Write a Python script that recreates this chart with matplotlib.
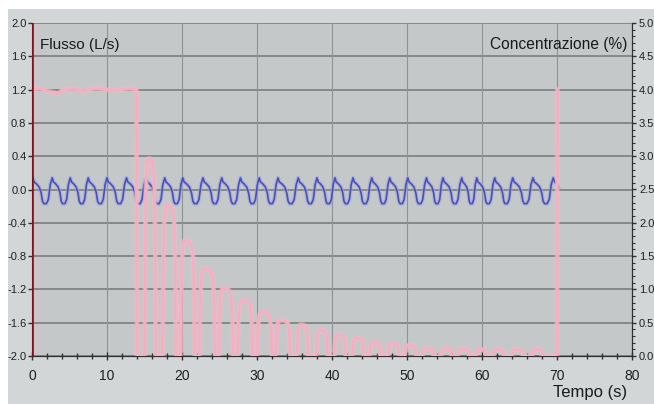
import matplotlib
matplotlib.use("Agg")
import matplotlib.pyplot as plt
import numpy as np
from matplotlib.patches import Rectangle
from matplotlib.ticker import MultipleLocator, FormatStrFormatter

plt.rcParams['font.family'] = ['Liberation Sans', 'DejaVu Sans']
plt.rcParams['axes.unicode_minus'] = False

# ---------------- data ----------------
# Flow (L/s), left axis: breath peak times (s) and one cycle shape
flow_peak_times = [0.1, 2.7, 5.1, 7.5, 10.0, 12.6, 15.2, 17.7, 20.1, 22.8,
                   25.3, 27.8, 30.3, 32.8, 35.5, 38.0, 40.4, 42.8, 45.3, 47.7,
                   50.1, 52.6, 54.8, 57.3, 59.3, 61.7, 64.1, 66.8, 69.5]
flow_end_time = 70.2
flow_end_value = 0.02
flow_cycle_phase = [0.00, 0.07, 0.18, 0.33, 0.43, 0.50, 0.57, 0.70, 0.80, 0.90]
flow_cycle_value = [0.14, 0.09, 0.07, 0.03, -0.04, -0.14, -0.17, -0.17, -0.12, 0.06]

# Concentration (%), right axis
conc_plateau_t = [0.05, 1.0, 2.0, 3.0, 3.4, 4.0, 5.5, 7.0, 8.5, 10.0, 11.5, 13.0, 13.9, 14.0]
conc_plateau_v = [4.0, 4.02, 3.98, 3.95, 3.93, 3.99, 4.01, 3.98, 4.02, 4.0, 3.99, 4.02, 4.0, 0.0]
pulse_start = [15.1, 17.5, 19.9, 22.4, 25.0, 27.5, 30.1, 32.6, 35.4, 38.0,
               40.4, 42.8, 45.1, 47.5, 49.8, 52.2, 54.7, 56.9, 59.3, 61.6, 64.1, 66.8]
pulse_end = [16.5, 19.2, 21.7, 24.4, 26.8, 29.4, 32.0, 34.4, 36.8, 39.4,
             41.8, 44.2, 46.4, 48.9, 51.2, 53.5, 55.9, 58.2, 60.5, 62.9, 65.4, 68.0]
pulse_height = [2.97, 2.27, 1.74, 1.32, 1.02, 0.84, 0.66, 0.54, 0.47, 0.39,
                0.32, 0.27, 0.21, 0.19, 0.16, 0.12, 0.12, 0.11, 0.10, 0.10, 0.10, 0.10]
conc_final_t = [69.9, 70.0, 70.05]
conc_final_v = [0.0, 0.0, 4.0]

x_ticks = [0, 10, 20, 30, 40, 50, 60, 70, 80]
left_ticks = [-2.0, -1.6, -1.2, -0.8, -0.4, 0.0, 0.4, 0.8, 1.2, 1.6, 2.0]
right_ticks = [0.0, 0.5, 1.0, 1.5, 2.0, 2.5, 3.0, 3.5, 4.0, 4.5, 5.0]

# ---------------- build series ----------------
ft, fv = [0.0], [0.12]
for i, p in enumerate(flow_peak_times):
    if i + 1 < len(flow_peak_times):
        T = flow_peak_times[i + 1] - p
        for ph, v in zip(flow_cycle_phase, flow_cycle_value):
            ft.append(p + ph * T); fv.append(v)
    else:
        T = p - flow_peak_times[i - 1]
        for ph, v in zip(flow_cycle_phase[:3], flow_cycle_value[:3]):
            ft.append(p + ph * T); fv.append(v)
ft.append(flow_end_time); fv.append(flow_end_value)

ct, cv = list(conc_plateau_t), list(conc_plateau_v)
for s, e, h in zip(pulse_start, pulse_end, pulse_height):
    w = e - s
    ct += [s - 0.1, s, s + 0.08 * w, s + 0.2 * w, s + 0.4 * w, e - 0.35 * w, e - 0.15 * w, e - 0.05 * w, e]
    cv += [0.0, 0.55 * h, 0.9 * h, 0.99 * h, h, 0.98 * h, 0.9 * h, 0.6 * h, 0.0]
ct += conc_final_t
cv += conc_final_v

# ---------------- figure ----------------
W, H = 654, 404
fig = plt.figure(figsize=(W / 100, H / 100), dpi=100)
fig.patch.set_facecolor('white')
fig.patches.append(Rectangle((8 / W, 0), 1, 1 - 9 / H, transform=fig.transFigure,
                             facecolor='#D3D6D6', edgecolor='none', zorder=-10))

ax = fig.add_axes([32 / W, (H - 356) / H, 600 / W, 333 / H])
ax.set_facecolor('#C4C8C8')
ax2 = ax.twinx()

ax.set_xlim(0, 80)
ax.set_ylim(-2.0, 2.0)
ax2.set_ylim(0, 5.0)

# grid
for y in left_ticks:
    ax.axhline(y, color='#858989', lw=1.4, zorder=0.5)
for x in x_ticks:
    ax.axvline(x, color='#8E9292', lw=0.8, zorder=0.5)

# concentration (pink) on right axis
ax2.plot(ct, cv, color='#F4BCCB', lw=3.6, alpha=0.55, solid_joinstyle='round', zorder=2)
ax2.plot(ct, cv, color='#F6AFC2', lw=2.0, solid_joinstyle='round', zorder=3)

# flow (blue) on left axis
ax.plot(ft, fv, color='#9EA6DA', lw=3.0, alpha=0.6, zorder=2)
ax.plot(ft, fv, color='#4A50B8', lw=1.2, zorder=3)

# dark red cursor at t=0
ax2.axvline(0.0, color='#80101C', lw=2.6, zorder=6)

ax.set_xticks(x_ticks)
ax.xaxis.set_minor_locator(MultipleLocator(2))
ax.set_yticks(left_ticks)
ax.yaxis.set_major_formatter(FormatStrFormatter('%.1f'))
ax2.set_yticks(right_ticks)
ax2.yaxis.set_minor_locator(MultipleLocator(0.1))
ax2.yaxis.set_major_formatter(FormatStrFormatter('%.1f'))

lab_col = '#202020'
ax.tick_params(axis='x', which='major', direction='inout', length=6, width=1,
               labelsize=10, colors='#303030', labelcolor=lab_col, pad=6)
ax.tick_params(axis='x', which='minor', direction='inout', length=4, width=1, colors='#303030')
ax.tick_params(axis='y', which='major', direction='out', length=3, width=1,
               labelsize=8, colors='#303030', labelcolor=lab_col, pad=1)
ax2.tick_params(axis='y', which='major', direction='out', length=3, width=1,
                labelsize=8, colors='#303030', labelcolor=lab_col, pad=2)
ax2.tick_params(axis='y', which='minor', direction='out', length=2, width=0.8, colors='#303030')

for a in (ax, ax2):
    a.spines['top'].set_visible(False)
    a.spines['left'].set_color('#303030')
    a.spines['right'].set_color('#303030')
    a.spines['bottom'].set_color('#303030')
ax2.spines['left'].set_visible(False)

ax.text(0.013, 0.935, 'Flusso (L/s)', transform=ax.transAxes, fontsize=11,
        color='#1A1A1A', ha='left', va='center', zorder=7)
ax2.text(0.993, 0.935, 'Concentrazione (%)', transform=ax.transAxes, fontsize=11.2,
         color='#1A1A1A', ha='right', va='center', zorder=7)
fig.text(627 / W, 1 - 392 / H, 'Tempo (s)', fontsize=12, color='#1A1A1A',
         ha='right', va='center')

fig.savefig('out.png', dpi=100, facecolor=fig.get_facecolor())
